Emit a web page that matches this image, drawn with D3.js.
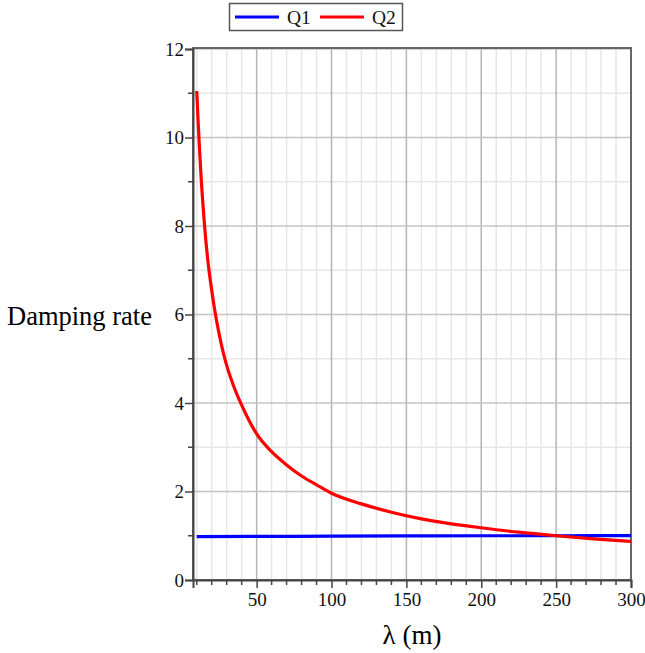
<!DOCTYPE html>
<html><head><meta charset="utf-8">
<script src="https://cdn.jsdelivr.net/npm/d3@7"></script>
<style>body{margin:0;background:#fff}svg{display:block}</style>
</head><body>
<script>
const seriesNames = ["Q1", "Q2"];
const seriesColors = ["#0000ff", "#ff0000"];
const q1Lambda = [10, 50, 100, 150, 200, 250, 300];
const q1Values = [0.98, 0.985, 0.99, 0.995, 1.0, 1.0, 1.005];
const q2Lambda = [10, 11, 12, 13, 14, 15, 16, 18, 20, 22, 25, 28, 30, 35, 40, 45, 50, 60, 70, 80, 90, 100, 120, 140, 160, 180, 200, 225, 250, 275, 300];
const q2Values = [11.05, 10.3, 9.65, 9.05, 8.55, 8.1, 7.7, 7.05, 6.55, 6.1, 5.55, 5.1, 4.85, 4.35, 3.95, 3.6, 3.3, 2.9, 2.6, 2.35, 2.15, 1.96, 1.72, 1.53, 1.38, 1.27, 1.18, 1.08, 1.0, 0.93, 0.87];
const xTicks = [50, 100, 150, 200, 250, 300];
const yTicks = [0, 2, 4, 6, 8, 10, 12];
const xLabel = "λ (m)";
const yLabel = "Damping rate";

const W = 645, H = 653;
const m = {left: 193, top: 49, right: 14, bottom: 73};
const iw = W - m.left - m.right, ih = H - m.top - m.bottom;
const svg = d3.select("body").append("svg").attr("width", W).attr("height", H);
const x = d3.scaleLinear().domain([7.5, 300]).range([m.left, m.left + iw]);
const y = d3.scaleLinear().domain([0, 12]).range([m.top + ih, m.top]);

const minorX = d3.range(10, 301, 10).filter(v => v % 50 !== 0);
const minorY = d3.range(1, 12, 2);
const g = svg.append("g");
g.selectAll(".mx").data(minorX).join("line").attr("x1", d => x(d)).attr("x2", d => x(d))
  .attr("y1", y(0)).attr("y2", y(12)).attr("stroke", "#e6e6e6").attr("stroke-width", 1.5);
g.selectAll(".my").data(minorY).join("line").attr("y1", d => y(d)).attr("y2", d => y(d))
  .attr("x1", x.range()[0]).attr("x2", x.range()[1]).attr("stroke", "#e6e6e6").attr("stroke-width", 1.5);
g.selectAll(".Mx").data(xTicks).join("line").attr("x1", d => x(d)).attr("x2", d => x(d))
  .attr("y1", y(0)).attr("y2", y(12)).attr("stroke", "#b4b4b4").attr("stroke-width", 1.5);
g.selectAll(".My").data(yTicks.slice(1)).join("line").attr("y1", d => y(d)).attr("y2", d => y(d))
  .attr("x1", x.range()[0]).attr("x2", x.range()[1]).attr("stroke", "#c4c4c4").attr("stroke-width", 1.5);

svg.append("rect").attr("x", m.left).attr("y", m.top - 1).attr("width", iw).attr("height", ih + 1)
  .attr("fill", "none").attr("stroke", "#666").attr("stroke-width", 2);

const line = d3.line().x(d => x(d[0])).y(d => y(d[1])).curve(d3.curveMonotoneX);
svg.append("path").datum(q1Lambda.map((l, i) => [l, q1Values[i]])).attr("d", line)
  .attr("fill", "none").attr("stroke", seriesColors[0]).attr("stroke-width", 3.2);
svg.append("path").datum(q2Lambda.map((l, i) => [l, q2Values[i]])).attr("d", line)
  .attr("fill", "none").attr("stroke", seriesColors[1]).attr("stroke-width", 3.2);

const font = "'Liberation Serif', 'Times New Roman', serif";
const xAxis = d3.axisBottom(x).tickValues(xTicks).tickSize(8).tickPadding(5);
const xa = svg.append("g").attr("transform", `translate(0,${y(0)})`).call(xAxis);
xa.select(".domain").attr("stroke", "#444").attr("stroke-width", 2);
xa.selectAll(".tick line").attr("stroke", "#444").attr("stroke-width", 1.5);
xa.selectAll("text").attr("font-family", font).attr("font-size", 19).attr("fill", "#111");
svg.append("g").selectAll("line").data(minorX).join("line")
  .attr("x1", d => x(d)).attr("x2", d => x(d)).attr("y1", y(0)).attr("y2", y(0) + 5)
  .attr("stroke", "#444").attr("stroke-width", 1.5);

const yAxis = d3.axisLeft(y).tickValues(yTicks).tickSize(8).tickPadding(1);
const ya = svg.append("g").attr("transform", `translate(${x.range()[0]},0)`).call(yAxis);
ya.select(".domain").attr("stroke", "#444").attr("stroke-width", 2);
ya.selectAll(".tick line").attr("stroke", "#444").attr("stroke-width", 1.5);
ya.selectAll("text").attr("font-family", font).attr("font-size", 19).attr("fill", "#111");
svg.append("g").selectAll("line").data(minorY).join("line")
  .attr("x1", x.range()[0] - 5).attr("x2", x.range()[0]).attr("y1", d => y(d)).attr("y2", d => y(d))
  .attr("stroke", "#444").attr("stroke-width", 1.5);

svg.append("text").attr("x", (x.range()[0] + x.range()[1]) / 2).attr("y", 644)
  .attr("text-anchor", "middle").attr("font-family", font).attr("font-size", 27).text(xLabel);
svg.append("text").attr("x", 7).attr("y", 325)
  .attr("font-family", font).attr("font-size", 26.5).text(yLabel);

const lg = svg.append("g");
lg.append("rect").attr("x", 229.5).attr("y", 3.5).attr("width", 173).attr("height", 27)
  .attr("fill", "#fff").attr("stroke", "#555").attr("stroke-width", 1.5);
const legX = [235, 320];
seriesNames.forEach((n, i) => {
  lg.append("line").attr("x1", legX[i]).attr("x2", legX[i] + 44).attr("y1", 17).attr("y2", 17)
    .attr("stroke", seriesColors[i]).attr("stroke-width", 3.2);
  lg.append("text").attr("x", legX[i] + 52).attr("y", 24).attr("font-family", font)
    .attr("font-size", 19.5).attr("fill", "#111").text(n);
});
</script>
</body></html>
